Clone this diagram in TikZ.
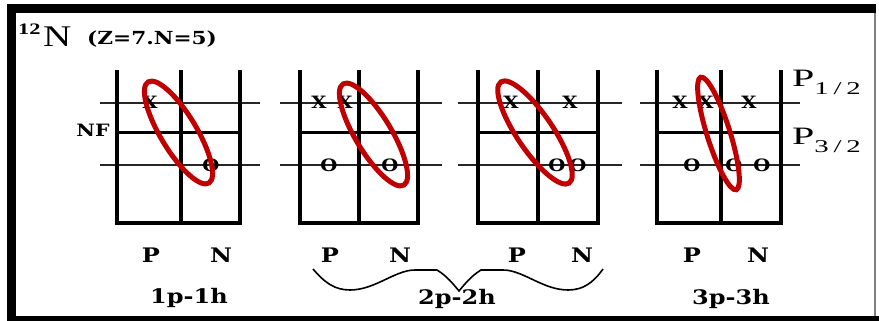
\documentclass[tikz,border=0pt]{standalone}
\usepackage{fontspec}
\usepackage{graphicx}
\setmainfont{Liberation Serif}
\newfontfamily\slabf{DejaVu Serif}
\definecolor{ellred}{RGB}{192,0,0}
\newcommand\wid[2][1.2]{\scalebox{#1}[1]{#2}}
\newcommand\shellbox[5]{%
  \draw[sline] (#4,218) -- (#5,218);
  \draw[sline] (#4,156) -- (#5,156);
  \draw[nfl] (#1,188) -- (#3,188);
  \draw[wallline] (#1,251) -- (#1,98) -- (#3,98) -- (#3,251);
  \draw[wallline] (#2,251) -- (#2,98);
}
\tikzset{
  sline/.style={line width=1.4pt, draw=black!85},
  wallline/.style={line width=4pt, draw=black, line join=miter},
  nfl/.style={line width=3pt, draw=black},
  occ/.style={font=\slabf\bfseries\fontsize{17}{17}\selectfont, inner sep=0pt},
  lab/.style={font=\slabf\bfseries\fontsize{20}{20}\selectfont, inner sep=0pt},
  ring/.style={draw=ellred, line width=5pt},
  bracel/.style={line width=1.6pt, draw=black},
}
\begin{document}
\begin{tikzpicture}[x=1pt,y=1pt]
\useasboundingbox (0,0) rectangle (879,321);
\fill[white] (0,0) rectangle (879,321);
% frame
\fill[black] (7,0) rectangle (16,317);
\fill[black] (7,308) rectangle (876,317);
\fill[black] (7,0) rectangle (879,5);
\draw[gray, line width=1.2pt] (875,5) -- (875,308);
% title
\node[anchor=base west, inner sep=0pt, font=\bfseries\fontsize{16}{16}\selectfont] (iso) at (18,286) {\wid[1.4]{12}};
\node[anchor=base west, inner sep=0pt, font=\fontsize{30}{30}\selectfont] (nuc) at (43,274) {\wid[1.3]{N}};
\node[anchor=base west, inner sep=0pt, font=\slabf\bfseries\fontsize{18}{18}\selectfont] (zn) at (87,276) {\wid[1.2]{(Z=7.N=5)}};
% grids
\shellbox{117}{181}{240}{100}{260}
\shellbox{300}{359}{418}{280}{442}
\shellbox{478}{538}{598}{458}{622}
\shellbox{657}{721}{781}{640}{800}
% NF
\node[lab, font=\slabf\bfseries\fontsize{17}{17}\selectfont] (nf) at (93,191) {\wid[1.2]{NF}};
% levels labels
\node[anchor=base west, inner sep=0pt, font=\fontsize{25}{25}\selectfont] (p12) at (792,234) {\wid[1.6]{P}\raisebox{-8pt}{\fontsize{18}{18}\selectfont\wid[1.6]{1\,/\,2}}};
\node[anchor=base west, inner sep=0pt, font=\fontsize{25}{25}\selectfont] (p32) at (792,176) {\wid[1.6]{P}\raisebox{-8pt}{\fontsize{18}{18}\selectfont\wid[1.6]{3\,/\,2}}};
% particles and holes
\node[occ] (x1a) at (150,219) {\wid[1.15]{X}};
\node[occ] (o1a) at (211,156) {\wid[1.15]{O}};
\node[occ] (x2a) at (319,219) {\wid[1.15]{X}};
\node[occ] (x2b) at (345,219) {\wid[1.15]{X}};
\node[occ] (o2a) at (329,156) {\wid[1.15]{O}};
\node[occ] (o2b) at (390,156) {\wid[1.15]{O}};
\node[occ] (x3a) at (511,219) {\wid[1.15]{X}};
\node[occ] (x3b) at (570,219) {\wid[1.15]{X}};
\node[occ] (o3a) at (557,156) {\wid[1.15]{O}};
\node[occ] (o3b) at (578,156) {\wid[1.15]{O}};
\node[occ] (x4a) at (680,219) {\wid[1.15]{X}};
\node[occ] (x4b) at (706,219) {\wid[1.15]{X}};
\node[occ] (x4c) at (749,219) {\wid[1.15]{X}};
\node[occ] (o4a) at (692,156) {\wid[1.15]{O}};
\node[occ] (o4b) at (734,156) {\wid[1.15]{O}};
\node[occ] (o4c) at (762,156) {\wid[1.15]{O}};
% P N labels
\node[lab] (p1) at (151,66) {\wid{P}};
\node[lab] (n1) at (221,66) {\wid{N}};
\node[lab] (p2) at (330,66) {\wid{P}};
\node[lab] (n2) at (400,66) {\wid{N}};
\node[lab] (p3) at (517,66) {\wid{P}};
\node[lab] (n3) at (582,66) {\wid{N}};
\node[lab] (p4) at (692,66) {\wid{P}};
\node[lab] (n4) at (758,66) {\wid{N}};
% configuration labels
\node[lab] (c1) at (189,23) {\wid{1p-1h}};
\node[lab] (c2) at (457,22) {\wid{2p-2h}};
\node[lab] (c3) at (731,22) {\wid{3p-3h}};
% brace
\draw[bracel] (313,52) .. controls (325,38) and (335,31) .. (350,31)
  .. controls (375,31) and (395,51) .. (415,51) -- (437,51)
  .. controls (447,45) and (454,36) .. (459,30)
  .. controls (464,36) and (471,45) .. (481,51) -- (503,51)
  .. controls (523,51) and (543,31) .. (568,31)
  .. controls (583,31) and (593,38) .. (603,52);
% ellipses
\draw[ring, rotate around={-59:(178.5,188.5)}] (178.5,188.5) ellipse [x radius=59pt, y radius=18pt];
\draw[ring, rotate around={-59:(373.5,186.5)}] (373.5,186.5) ellipse [x radius=59pt, y radius=18pt];
\draw[ring, rotate around={-56:(535,188.5)}] (535,188.5) ellipse [x radius=61pt, y radius=18pt];
\draw[ring, rotate around={-72.5:(718.5,187.5)}] (718.5,187.5) ellipse [x radius=59pt, y radius=11.5pt];
\end{tikzpicture}
\end{document}
